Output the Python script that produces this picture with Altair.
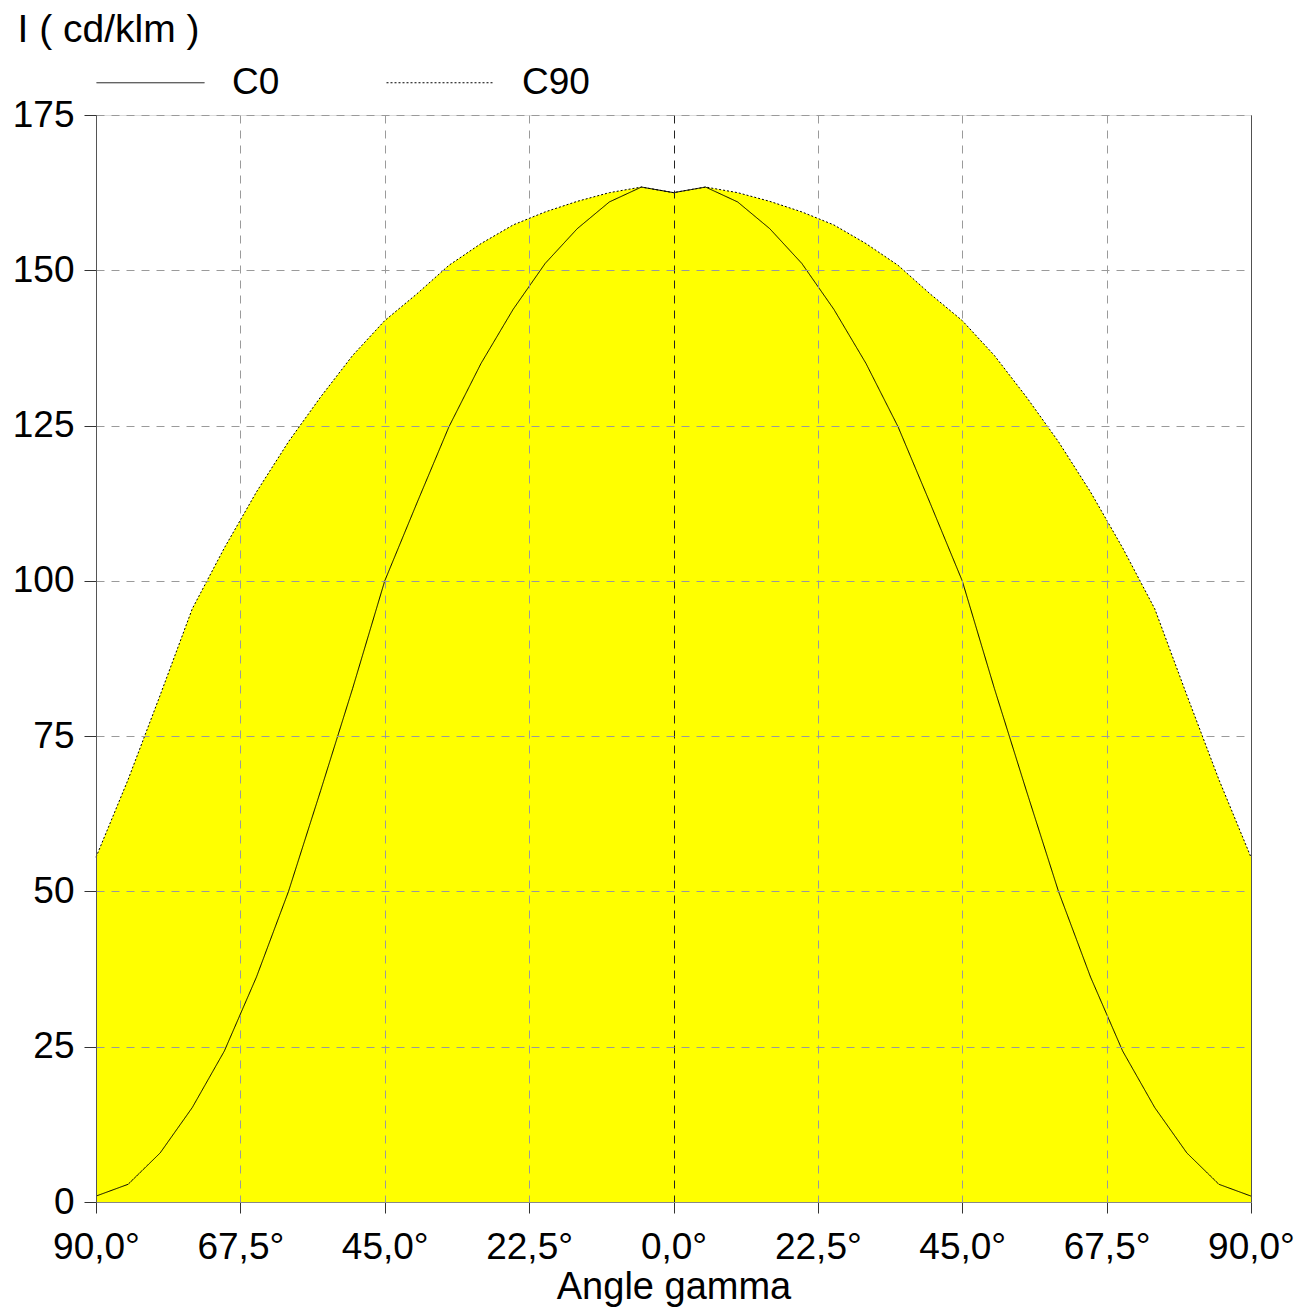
import altair as alt
import pandas as pd

# ---- data ----
gamma_deg = [-90, -85, -80, -75, -70, -65, -60, -55, -50, -45, -40, -35, -30, -25, -20, -15, -10, -5,
             0, 5, 10, 15, 20, 25, 30, 35, 40, 45, 50, 55, 60, 65, 70, 75, 80, 85, 90]
c0_values = [0.95, 2.85, 7.9, 15.2, 24.3, 36.2, 50.0, 66.2, 82.7, 100.0, 112.5, 124.8, 135.0, 143.7,
             151.1, 156.7, 161.0, 163.4, 162.5, 163.4, 161.0, 156.7, 151.1, 143.7, 135.0, 124.8,
             112.5, 100.0, 82.7, 66.2, 50.0, 36.2, 24.3, 15.2, 7.9, 2.85, 0.95]
c90_values = [55.5, 68.0, 81.6, 95.5, 105.3, 114.3, 122.4, 129.6, 136.3, 141.9, 146.2, 150.8, 154.3,
              157.3, 159.4, 161.1, 162.5, 163.4, 162.5, 163.4, 162.5, 161.1, 159.4, 157.3, 154.3,
              150.8, 146.2, 141.9, 136.3, 129.6, 122.4, 114.3, 105.3, 95.5, 81.6, 68.0, 55.5]
series_names = ["C0", "C90"]
x_tick_values = [-90, -67.5, -45, -22.5, 0, 22.5, 45, 67.5, 90]
y_tick_values = [0, 25, 50, 75, 100, 125, 150, 175]
x_title = "Angle gamma"
y_title = "I ( cd/klm )"

FONT = "Liberation Sans"
FS = 37

df = pd.DataFrame({"gamma": gamma_deg, "C0": c0_values, "C90": c90_values})

x_axis = alt.Axis(
    values=x_tick_values,
    labelExpr="replace(format(abs(datum.value), '.1f'), '.', ',') + '°'",
    labelFontSize=FS, labelFont=FONT, labelColor="black", labelPadding=16,
    labelOverlap=False, labelFlush=False,
    tickSize=11, tickColor="#333333", domainColor="#888888",
    grid=True,
    gridColor={"condition": {"test": "datum.value === 0 || abs(datum.value) === 90", "value": "#222222"},
               "value": "#9a9a9a"},
    gridDash={"condition": {"test": "abs(datum.value) === 90", "value": [1, 0]}, "value": [8, 7]},
    title=x_title, titleFontSize=38, titleFont=FONT, titleFontWeight="normal", titleColor="black",
    titleBaseline="alphabetic", titleY=96,
    zindex=1,
)
y_axis = alt.Axis(
    values=y_tick_values,
    labelFontSize=FS, labelFont=FONT, labelColor="black", labelPadding=10,
    tickSize=12, tickColor="#333333", domainColor="#555555",
    grid=True, gridColor="#9a9a9a", gridDash=[8, 7],
    title=y_title, titleAngle=0, titleAlign="left", titleBaseline="alphabetic",
    titleX=-79, titleY=-74, titleFontSize=39, titleFont=FONT, titleFontWeight="normal",
    titleColor="black",
    zindex=1,
)

x_enc = alt.X("gamma:Q", scale=alt.Scale(domain=[-90, 90], nice=False, zero=False), axis=x_axis)

area = alt.Chart(df).mark_area(color="#FFFF00").encode(
    x=x_enc,
    y=alt.Y("C90:Q", scale=alt.Scale(domain=[0, 175], nice=False), axis=y_axis),
)

lines = alt.Chart(df).transform_fold(series_names, as_=["series", "value"]).mark_line(
    color="black", strokeWidth=1
).encode(
    x=x_enc,
    y=alt.Y("value:Q", scale=alt.Scale(domain=[0, 175], nice=False), axis=y_axis),
    strokeDash=alt.StrokeDash(
        "series:N",
        scale=alt.Scale(domain=series_names, range=[[1, 0], [2, 2]]),
        legend=alt.Legend(
            title=None, orient="none", legendX=0, legendY=-87, direction="horizontal",
            symbolType="stroke", symbolSize=11664, symbolStrokeWidth=1, symbolStrokeColor="black",
            labelFontSize=FS, labelFont=FONT, labelColor="black", labelOffset=27,
            columnPadding=104, padding=0, labelLimit=400,
        ),
    ),
)

chart = alt.layer(area, lines).properties(
    width=1155, height=1087,
    padding={"left": 88, "top": 107, "right": 55, "bottom": 106},
    autosize=alt.AutoSizeParams(type="none"),
).configure_view(stroke=None).configure(font=FONT)

chart.save("out.html", embed_options={"renderer": "svg", "actions": False})
